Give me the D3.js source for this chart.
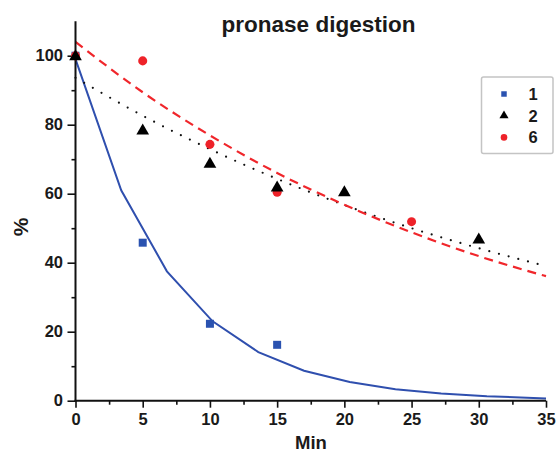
<!DOCTYPE html>
<html><head><meta charset="utf-8">
<script src="https://cdn.jsdelivr.net/npm/d3@7"></script>
<style>body{margin:0;background:#fff}svg{display:block}text{font-family:"Liberation Sans",Arial,sans-serif;font-weight:bold;fill:#1a1a1a}</style>
</head><body><svg id="c" width="557" height="453"></svg>
<script>
// data
const title = "pronase digestion";
const xTicks = [0,5,10,15,20,25,30,35];
const yTicks = [0,20,40,60,80,100];
const s1x = [0,5,10,15];
const s1y = [100,45.8,22.3,16.2];
const s2x = [0,5,10,15,20,30];
const s2y = [100,78.5,68.9,62.0,60.6,46.9];
const s6x = [0,5,10,15,25];
const s6y = [100,98.5,74.3,60.4,51.9];
const fit1x = [0,3.4,6.8,10.2,13.6,17,20.4,23.8,27.2,30.6,35];
const fit1y = [99,61,37.5,23,14.1,8.7,5.4,3.3,2.1,1.3,0.65];
const fit2x = [0,5,10,15,20,25,30,35];
const fit2y = [93.6,82.6,72.9,64.3,56.7,50.0,44.2,39.0];
const fit6x = [0,5,10,15,20,25,30,35];
const fit6y = [104,89.4,76.9,66.0,56.8,48.8,41.9,36.1];
const legendLabels = ["1","2","6"];

const svg = d3.select("#c");
const x = d3.scaleLinear().domain([0,35]).range([75.5,546]);
const y = d3.scaleLinear().domain([0,110]).range([400.7,21.2]);

// fits
const line = d3.line().x(d=>x(d[0])).y(d=>y(d[1]));
svg.append("path").datum(fit1x.map((v,i)=>[v,fit1y[i]])).attr("d",line)
  .attr("fill","none").attr("stroke","#2f4fae").attr("stroke-width",2);
svg.append("path").datum(fit2x.map((v,i)=>[v,fit2y[i]])).attr("d",d3.line().curve(d3.curveMonotoneX).x(d=>x(d[0])).y(d=>y(d[1])))
  .attr("fill","none").attr("stroke","#111").attr("stroke-width",2.2)
  .attr("stroke-linecap","round").attr("stroke-dasharray","0,10");
svg.append("path").datum(fit6x.map((v,i)=>[v,fit6y[i]])).attr("d",d3.line().curve(d3.curveMonotoneX).x(d=>x(d[0])).y(d=>y(d[1])))
  .attr("fill","none").attr("stroke","#f0262b").attr("stroke-width",2.2)
  .attr("stroke-dasharray","9,6");

// axes
const xa = svg.append("g").attr("transform","translate(0,400.7)");
xa.call(d3.axisBottom(x).tickValues(xTicks).tickSize(7).tickPadding(5.5).tickFormat(d3.format("d")));
const xm = svg.append("g").attr("transform","translate(0,400.7)");
xm.call(d3.axisBottom(x).tickValues(d3.range(2.5,35,5)).tickSize(4).tickFormat(""));
const ya = svg.append("g").attr("transform",`translate(${x(0)},0)`);
ya.call(d3.axisLeft(y).tickValues(yTicks).tickSize(8).tickPadding(4.5).tickFormat(d3.format("d")));
const ym = svg.append("g").attr("transform",`translate(${x(0)},0)`);
ym.call(d3.axisLeft(y).tickValues(d3.range(10,110,20)).tickSize(4).tickFormat(""));
svg.selectAll(".domain").attr("stroke","#111").attr("stroke-width",2);
svg.selectAll(".tick line").attr("stroke","#111").attr("stroke-width",1.6);
svg.selectAll(".tick text").attr("font-size",16.5).attr("font-family","Liberation Sans, Arial, sans-serif").attr("font-weight","bold").attr("fill","#1a1a1a");
ym.select(".domain").remove(); xm.select(".domain").remove();
xa.select(".domain").attr("d",`M${x(0)-1},0H${x(35)}`);
ya.select(".domain").attr("d",`M0,${y(0)+1}V${y(110)}`);

// points
const sq = d3.symbol().type(d3.symbolSquare).size(64);
const tri = d3.symbol().type(d3.symbolTriangle).size(70);
const cir = d3.symbol().type(d3.symbolCircle).size(64);
svg.append("g").selectAll("path").data(s1x.map((v,i)=>[v,s1y[i]])).join("path")
  .attr("d",sq).attr("transform",d=>`translate(${x(d[0])},${y(d[1])})`).attr("fill","#2a52b0");
svg.append("g").selectAll("path").data(s6x.map((v,i)=>[v,s6y[i]])).join("path")
  .attr("d",cir).attr("transform",d=>`translate(${x(d[0])},${y(d[1])})`).attr("fill","#ee2229");
svg.append("g").selectAll("path").data(s2x.map((v,i)=>[v,s2y[i]])).join("path")
  .attr("d",tri).attr("transform",d=>`translate(${x(d[0])},${y(d[1])+1})`).attr("fill","#000");

// labels
svg.append("text").attr("x",318.5).attr("y",31.5).attr("text-anchor","middle").attr("font-size",22.5).text(title);
svg.append("text").attr("x",311).attr("y",448.5).attr("text-anchor","middle").attr("font-size",18.5).text("Min");
svg.append("text").attr("transform","translate(28,227) rotate(-90)").attr("text-anchor","middle").attr("font-size",21).text("%");

// legend
const lg = svg.append("g");
lg.append("rect").attr("x",481.5).attr("y",77).attr("width",71.5).attr("height",76.5).attr("rx",2)
  .attr("fill","#fff").attr("stroke","#c4c4c4").attr("stroke-width",1.5);
const lsyms = [d3.symbol().type(d3.symbolSquare).size(30), d3.symbol().type(d3.symbolTriangle).size(36), d3.symbol().type(d3.symbolCircle).size(34)];
const lcols = ["#2a52b0","#000","#ee2229"];
legendLabels.forEach((l,i)=>{
  const yy = 94 + i*21.7;
  lg.append("path").attr("d",lsyms[i]).attr("transform",`translate(504,${yy})`).attr("fill",lcols[i]);
  lg.append("text").attr("x",533).attr("y",yy+6).attr("text-anchor","middle").attr("font-size",16.5).text(l);
});
</script></body></html>
